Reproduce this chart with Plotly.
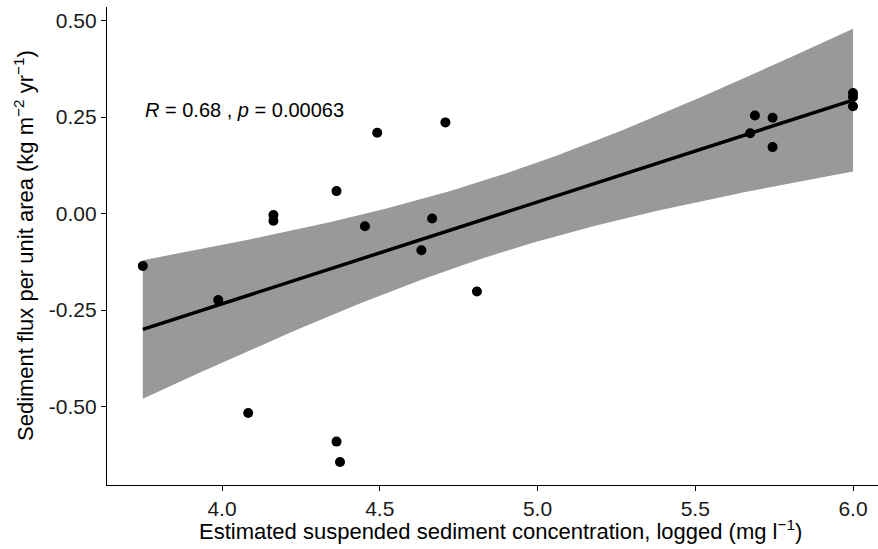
import numpy as np
import plotly.graph_objects as go

# Estimated suspended sediment concentration (logged, mg/l) and sediment flux per unit area
ssc_logged = [3.749, 3.988, 4.083, 4.163, 4.163, 4.363, 4.363, 4.374, 4.453, 4.492, 4.632,
              4.666, 4.708, 4.808, 5.674, 5.689, 5.745, 5.745, 6.000, 6.000, 6.000]
sed_flux = [-0.136, -0.224, -0.517, -0.004, -0.019, 0.058, -0.591, -0.644, -0.033, 0.209, -0.095,
            -0.013, 0.236, -0.202, 0.208, 0.254, 0.248, 0.172, 0.312, 0.302, 0.278]

x_ticks = [4.0, 4.5, 5.0, 5.5, 6.0]
x_ticktext = ["4.0", "4.5", "5.0", "5.5", "6.0"]
y_ticks = [-0.50, -0.25, 0.00, 0.25, 0.50]
y_ticktext = ["-0.50", "-0.25", "0.00", "0.25", "0.50"]

cor_label = "<i>R</i> = 0.68 , <i>p</i> = 0.00063"

# Linear model with 95% confidence band
x = np.array(ssc_logged)
y = np.array(sed_flux)
n = len(x)
slope, intercept = np.polyfit(x, y, 1)
xs = np.linspace(x.min(), x.max(), 80)
fit = intercept + slope * xs
resid = y - (intercept + slope * x)
s = np.sqrt(np.sum(resid ** 2) / (n - 2))
sxx = np.sum((x - x.mean()) ** 2)
T975 = 2.093  # Student t 0.975 quantile, df = 19
hw = T975 * s * np.sqrt(1.0 / n + (xs - x.mean()) ** 2 / sxx)
upper = fit + hw
lower = fit - hw

FONT = "Liberation Sans, Arial, Helvetica, sans-serif"

fig = go.Figure()
fig.add_trace(go.Scatter(
    x=np.concatenate([xs, xs[::-1]]), y=np.concatenate([upper, lower[::-1]]),
    fill="toself", fillcolor="#999999", line=dict(width=0), mode="lines",
    hoverinfo="skip", showlegend=False))
fig.add_trace(go.Scatter(
    x=xs, y=fit, mode="lines", line=dict(color="black", width=3.5), showlegend=False))
fig.add_trace(go.Scatter(
    x=x, y=y, mode="markers", marker=dict(color="black", size=10), showlegend=False))

fig.add_annotation(x=3.75, y=0.267, xref="x", yref="y", text=cor_label, showarrow=False,
                   xanchor="left", yanchor="middle", font=dict(size=20, color="black", family=FONT))

W, H = 878, 549
L, R, T, B = 107, 0, 7, 64
pw, ph = W - L - R, H - T - B

fig.add_annotation(
    x=(500 - L) / pw, y=(485 - 530) / ph, xref="paper", yref="paper",
    text="Estimated suspended sediment concentration, logged (mg l<sup>\u22121</sup>)",
    showarrow=False, xanchor="center", yanchor="middle",
    font=dict(size=22, color="black", family=FONT))
fig.add_annotation(
    x=(24 - L) / pw, y=0.5, xref="paper", yref="paper", textangle=-90,
    text="Sediment flux per unit area (kg m<sup>\u22122</sup> yr<sup>\u22121</sup>)",
    showarrow=False, xanchor="center", yanchor="middle",
    font=dict(size=22, color="black", family=FONT))

axis_common = dict(showgrid=False, zeroline=False, showline=True, linecolor="black", linewidth=1.3,
                   ticks="outside", ticklen=5, tickwidth=1.3, tickcolor="black",
                   tickfont=dict(size=21, color="#1a1a1a", family=FONT))
fig.update_xaxes(range=[3.6355, 6.0792], tickvals=x_ticks, ticktext=x_ticktext, **axis_common)
fig.update_yaxes(range=[-0.7034, 0.535], tickvals=y_ticks, ticktext=y_ticktext, **axis_common)

fig.update_layout(width=W, height=H, margin=dict(l=L, r=R, t=T, b=B),
                  plot_bgcolor="white", paper_bgcolor="white", showlegend=False,
                  font=dict(family=FONT))
fig.write_html("out.html")
